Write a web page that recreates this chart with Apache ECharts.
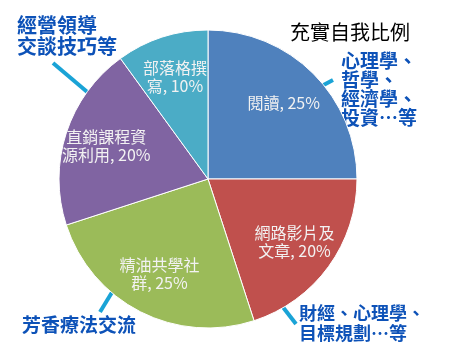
<!DOCTYPE html>
<html>
<head>
<meta charset="utf-8">
<script src="https://cdn.jsdelivr.net/npm/echarts@6/dist/echarts.min.js"></script>
<style>
html,body{margin:0;padding:0;background:#fff;}
#chart{width:451px;height:360px;}
</style>
</head>
<body>
<div id="chart"></div>
<script>
var categories = ['閱讀', '網路影片及文章', '精油共學社群', '直銷課程資源利用', '部落格撰寫'];
var labelTexts = ['閱讀, 25%', '網路影片及\n文章, 20%', '精油共學社\n群, 25%', '直銷課程資\n源利用, 20%', '部落格撰\n寫, 10%'];
var values = [25, 20, 25, 20, 10];
var colors = ['#4F81BD', '#C0504D', '#9BBB59', '#8064A2', '#4BACC6'];
var titleText = '充實自我比例';
var notes = ['經營領導\n交談技巧等', '心理學、\n哲學、\n經濟學、\n投資…等', '芳香療法交流', '財經、心理學、\n目標規劃…等'];

var FONT = '"Noto Sans CJK TC", "Noto Sans", sans-serif';
var NOTE_COLOR = '#0D52B8';
var LINE_COLOR = '#1AA3D6';

var pieData = categories.map(function (c, i) {
  return { name: c, value: values[i], itemStyle: { color: colors[i] } };
});
var labelData = categories.map(function (c, i) {
  return { name: c, value: values[i], label: { formatter: labelTexts[i] } };
});

function note(text, x, y, size, lh) {
  return { type: 'text', left: x, top: y, silent: true,
    style: { text: text, fill: NOTE_COLOR, font: 'bold ' + size + 'px ' + FONT, lineHeight: lh } };
}
function pointer(x1, y1, x2, y2) {
  return { type: 'line', silent: true, shape: { x1: x1, y1: y1, x2: x2, y2: y2 },
    style: { stroke: LINE_COLOR, lineWidth: 4 } };
}

var chart = echarts.init(document.getElementById('chart'), null, { renderer: 'canvas' });
chart.setOption({
  animation: false,
  title: { text: titleText, left: 285, top: 17,
    textStyle: { fontSize: 20, fontWeight: 'normal', color: '#000', fontFamily: FONT } },
  series: [
    { type: 'pie', center: [208, 179], radius: [0, 149], startAngle: 90, clockwise: true,
      silent: true, label: { show: false }, labelLine: { show: false },
      itemStyle: { borderColor: '#ffffff', borderWidth: 1 }, data: pieData },
    { type: 'pie', center: [208, 179], radius: [59, 149], startAngle: 90, clockwise: true,
      silent: true, itemStyle: { color: 'transparent' },
      label: { show: true, position: 'inside', color: '#F2F2F2', fontSize: 16, lineHeight: 18,
        fontFamily: FONT, align: 'center' },
      labelLine: { show: false }, data: labelData }
  ],
  graphic: [
    pointer(53, 63, 92, 96),
    pointer(316, 89, 333, 80),
    pointer(100, 312, 114, 289),
    pointer(272, 293, 296, 324),
    note(notes[0], 17, 15, 20, 21),
    note(notes[1], 341, 51, 19, 19),
    note(notes[2], 22, 314, 19, 21),
    note(notes[3], 299, 303, 18, 20)
  ]
});
</script>
</body>
</html>
